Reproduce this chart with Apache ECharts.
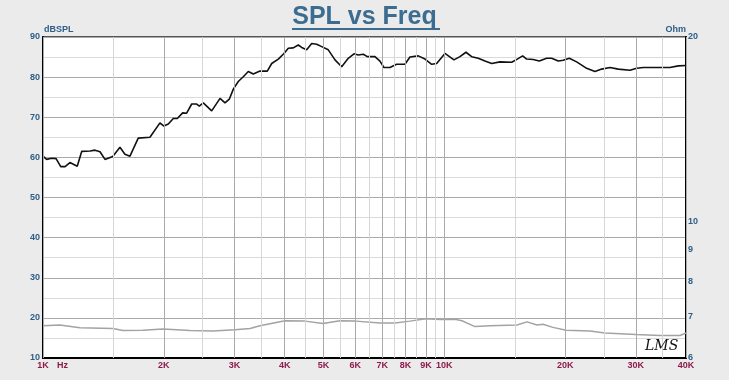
<!DOCTYPE html>
<html><head><meta charset="utf-8">
<script src="https://cdn.jsdelivr.net/npm/echarts@6/dist/echarts.min.js"></script>
<style>html,body{margin:0;padding:0;background:#ebebeb}#c{width:729px;height:380px}</style>
</head><body><div id="c"></div>
<script>
// SPL response (Hz, dB)
const splFreq = [1000,1021,1051,1078,1107,1135,1167,1217,1249,1310,1348,1387,1427,1492,1555,1600,1647,1727,1847,1956,
  2001,2052,2112,2161,2228,2280,2347,2415,2451,2508,2632,2761,2841,2912,2980,3066,3155,3247,3342,3472,
  3621,3714,3857,3985,4084,4203,4325,4411,4539,4671,4807,4947,5138,5340,5548,5762,5954,6104,6281,6427,
  6716,6911,7071,7318,7605,7976,8209,8610,8948,9299,9568,10035,10566,10935,11319,11695,12146,12622,13118,13758,
  14715,15193,15670,16033,16653,17235,17984,18507,19221,19779,20475,21364,22618,23729,24658,25861,27123,29001,30138,31300,
  33806,36480,38261,40000];
const splDb = [60.3,59.5,59.8,59.7,57.7,57.7,58.7,57.8,61.5,61.6,61.8,61.4,59.5,60.2,62.5,60.8,60.3,64.8,65.0,68.6,
  67.8,68.3,69.7,69.7,71.1,71.0,73.3,73.3,72.8,73.6,71.6,74.7,73.6,74.5,77.0,78.9,80.1,81.4,80.8,81.5,
  81.5,83.4,84.5,85.9,87.2,87.3,88.0,87.4,86.8,88.4,88.2,87.6,86.8,84.3,82.6,84.7,85.8,85.5,85.7,85.1,
  85.1,84.0,82.4,82.4,83.2,83.2,85.0,85.3,84.5,83.2,83.4,85.9,84.3,85.1,86.2,85.1,84.7,84.0,83.4,83.8,
  83.7,84.5,85.3,84.5,84.4,84.0,84.7,84.7,84.0,84.2,84.7,83.8,82.2,81.4,82.0,82.4,82.0,81.7,82.2,82.4,
  82.4,82.4,82.8,82.9];
// Impedance (Hz, Ohm)
const impFreq = [1000,1102,1236,1494,1582,1775,1991,2324,2652,3009,3280,3472,4008,4495,4985,5496,6023,6911,7531,8209,
  9000,9750,10627,11061,11920,12990,15167,16064,17012,17608,18646,20092,23052,25124,30012,34445,38634,40000];
const impOhm = [6.77,6.79,6.72,6.70,6.65,6.66,6.69,6.65,6.64,6.67,6.70,6.77,6.90,6.89,6.83,6.90,6.89,6.84,6.84,6.89,
  6.95,6.93,6.94,6.90,6.75,6.77,6.79,6.87,6.79,6.81,6.73,6.66,6.64,6.59,6.55,6.53,6.53,6.59];

const freqMajor = [1000,2000,3000,4000,5000,6000,7000,8000,9000,10000,20000,30000,40000];
const freqMajorLabels = ['1K','2K','3K','4K','5K','6K','7K','8K','9K','10K','20K','30K','40K'];
const freqMinor = [1500,2500,3500,4500,5500,6500,7500,8500,9500,15000,25000,35000];
const ohmTicks = [6,7,8,9,10,20];

const FONT = 'Liberation Sans';
const BLUE = '#2d5e88';
const MAROON = '#8e1b4b';

const gridLines = [];
freqMinor.forEach(f => gridLines.push({xAxis: f, lineStyle: {color: '#d6d6d6', width: 1, type: 'solid'}, label: {show: false}}));
freqMajor.forEach((f, i) => gridLines.push({xAxis: f, lineStyle: {color: '#aaaaaa', width: 1, type: 'solid'},
  label: {show: true, formatter: freqMajorLabels[i]}}));

const ohmLines = ohmTicks.map(v => ({yAxis: v, label: {show: true, formatter: String(v)}}));

const chart = echarts.init(document.getElementById('c'), null, {renderer: 'canvas'});
chart.setOption({
  animation: false,
  backgroundColor: '#ebebeb',
  grid: {left: 43, right: 43, top: 37, bottom: 22, show: true, backgroundColor: '#ffffff', borderColor: '#555555', borderWidth: 2},
  xAxis: {
    type: 'log', logBase: 10, min: 1000, max: 40000,
    axisLine: {show: true, onZero: false, lineStyle: {color: '#000', width: 2}},
    axisTick: {show: false}, axisLabel: {show: false}, splitLine: {show: false}
  },
  yAxis: [{
    type: 'value', min: 10, max: 90, interval: 10,
    axisLine: {show: true, lineStyle: {color: '#000', width: 2}},
    axisTick: {show: false},
    axisLabel: {color: BLUE, fontFamily: FONT, fontWeight: 'bold', fontSize: 9, margin: 3},
    splitLine: {show: true, lineStyle: {color: '#aaaaaa', width: 1}},
    minorTick: {show: false, splitNumber: 2},
    minorSplitLine: {show: true, lineStyle: {color: '#dadada', width: 1}}
  }, {
    type: 'log', logBase: 10, min: 6, max: 20, position: 'right',
    axisLine: {show: true, lineStyle: {color: '#000', width: 2}},
    axisTick: {show: false}, axisLabel: {show: false}, splitLine: {show: false}
  }],
  series: [{
    type: 'line', name: 'grid', data: [], z: 1, silent: true,
    markLine: {
      silent: true, symbol: ['none', 'none'], animation: false,
      label: {position: 'start', distance: 3, color: MAROON, fontFamily: FONT, fontWeight: 'bold', fontSize: 9},
      emphasis: {disabled: true},
      data: gridLines
    }
  }, {
    type: 'line', name: 'ohmLabels', yAxisIndex: 1, data: [], z: 1, silent: true,
    markLine: {
      silent: true, symbol: ['none', 'none'], animation: false,
      lineStyle: {color: 'rgba(0,0,0,0)', width: 0},
      label: {position: 'end', distance: 2, color: BLUE, fontFamily: FONT, fontWeight: 'bold', fontSize: 9},
      emphasis: {disabled: true},
      data: ohmLines
    }
  }, {
    type: 'line', name: 'Impedance', yAxisIndex: 1, z: 3,
    data: impFreq.map((f, i) => [f, impOhm[i]]),
    showSymbol: false, smooth: false,
    lineStyle: {color: '#a3a3a3', width: 1.5}
  }, {
    type: 'line', name: 'SPL', yAxisIndex: 0, z: 4,
    data: splFreq.map((f, i) => [f, splDb[i]]),
    showSymbol: false, smooth: false,
    lineStyle: {color: '#111111', width: 1.6}
  }],
  graphic: [
    {type: 'text', left: 'center', top: 5, style: {text: 'SPL vs Freq', fill: '#3c6d90', font: 'bold 25px "Liberation Sans"'}},
    {type: 'rect', shape: {x: 292, y: 28, width: 148, height: 2}, style: {fill: '#3c6d90'}},
    {type: 'text', x: 44, y: 30, style: {text: 'dBSPL', fill: BLUE, font: 'bold 9px "Liberation Sans"', textVerticalAlign: 'middle'}},
    {type: 'text', x: 686, y: 30, style: {text: 'Ohm', fill: BLUE, font: 'bold 9px "Liberation Sans"', textAlign: 'right', textVerticalAlign: 'middle'}},
    {type: 'text', x: 57, y: 366, style: {text: 'Hz', fill: MAROON, font: 'bold 9px "Liberation Sans"', textVerticalAlign: 'middle'}},
    {type: 'text', x: 645, y: 346, z: 10, style: {text: 'LMS', fill: '#111', font: 'italic 14px "DejaVu Serif"', textVerticalAlign: 'middle'}}
  ]
});
</script></body></html>
